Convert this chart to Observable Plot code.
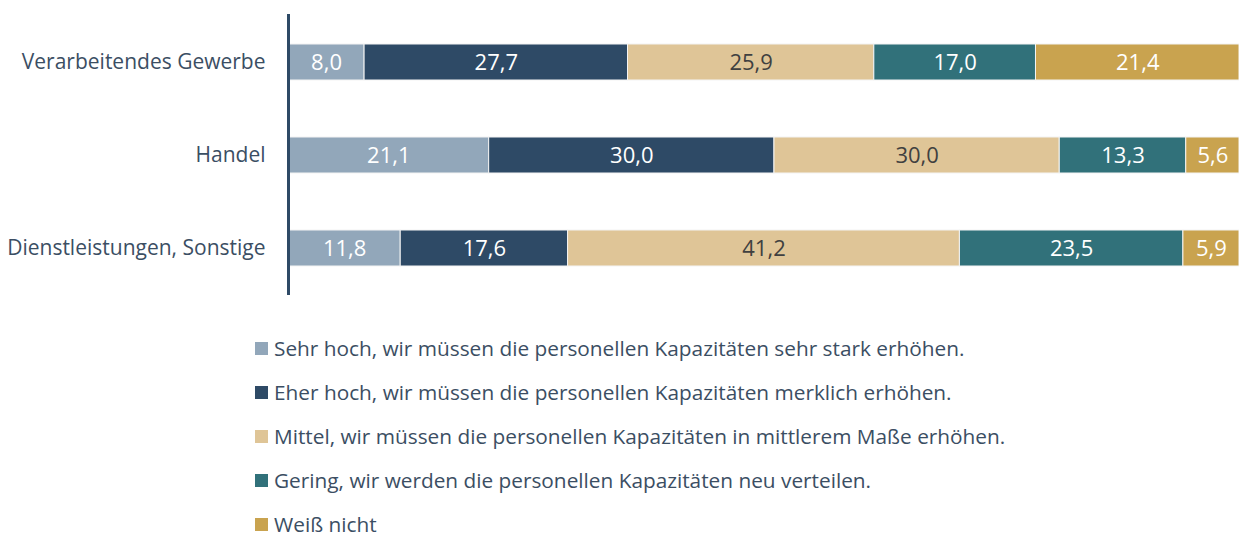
<!DOCTYPE html>
<html><head><meta charset="utf-8">
<script src="https://cdn.jsdelivr.net/npm/d3@7"></script>
<script src="https://cdn.jsdelivr.net/npm/@observablehq/plot@0.6"></script>
<style>
body{margin:0;background:#fff;font-family:"Open Sans",Lato,sans-serif;}
#legend{margin:16px 0 0 255px;color:#3b4e63;font-size:20.8px;}
#legend div{height:44px;line-height:44px;display:flex;align-items:center;}
#legend span.sw{display:inline-block;width:13px;height:13px;margin-right:6px;}
</style></head>
<body>
<div id="chart"></div>
<div id="legend"></div>
<script>
const categories = ["Verarbeitendes Gewerbe", "Handel", "Dienstleistungen, Sonstige"];
const series = [
  "Sehr hoch, wir müssen die personellen Kapazitäten sehr stark erhöhen.",
  "Eher hoch, wir müssen die personellen Kapazitäten merklich erhöhen.",
  "Mittel, wir müssen die personellen Kapazitäten in mittlerem Maße erhöhen.",
  "Gering, wir werden die personellen Kapazitäten neu verteilen.",
  "Weiß nicht"
];
const colors = ["#92a7ba", "#2e4a66", "#dfc597", "#31717a", "#c9a34f"];
const labelColors = ["#ffffff", "#ffffff", "#404040", "#ffffff", "#ffffff"];
const sehrHoch = [8.0, 21.1, 11.8];
const eherHoch = [27.7, 30.0, 17.6];
const mittel   = [25.9, 30.0, 41.2];
const gering   = [17.0, 13.3, 23.5];
const weissNicht = [21.4, 5.6, 5.9];

const valueArrays = [sehrHoch, eherHoch, mittel, gering, weissNicht];
const data = [];
categories.forEach((c, i) => {
  series.forEach((s, j) => {
    data.push({cat: c, series: s, idx: j, value: valueArrays[j][i]});
  });
});
const fmt = v => v.toFixed(1).replace(".", ",");
const FS = 21;

const plot = Plot.plot({
  width: 1239,
  height: 310,
  marginLeft: 288,
  marginRight: 0,
  marginTop: 14,
  marginBottom: 15,
  style: {fontFamily: "'Open Sans', Lato, sans-serif", fontSize: FS + "px", color: "#3b4e63", background: "white"},
  x: {domain: [0, 100], axis: null},
  y: {domain: categories, paddingInner: 0.615, paddingOuter: 0.3075, label: null},
  color: {domain: series, range: colors},
  marks: [
    Plot.barX(data, Plot.stackX({x: "value", y: "cat", fill: "series", stroke: "#f4f4f4", strokeWidth: 1, order: "idx"})),
    Plot.text(data, Plot.stackX({x: "value", y: "cat", z: "series", order: "idx", text: d => fmt(d.value),
      fill: d => labelColors[d.idx], fontSize: 22, letterSpacing: 0.8})),
    Plot.axisY({tickSize: 0, tickPadding: 23, fontSize: FS, fill: "#3b4e63"}),
    Plot.ruleX([0], {stroke: "#2e4a66", strokeWidth: 3})
  ]
});
document.getElementById("chart").appendChild(plot);

const legend = document.getElementById("legend");
series.forEach((s, j) => {
  const row = document.createElement("div");
  const sw = document.createElement("span");
  sw.className = "sw";
  sw.style.background = colors[j];
  row.appendChild(sw);
  row.appendChild(document.createTextNode(s));
  legend.appendChild(row);
});
</script>
</body></html>
